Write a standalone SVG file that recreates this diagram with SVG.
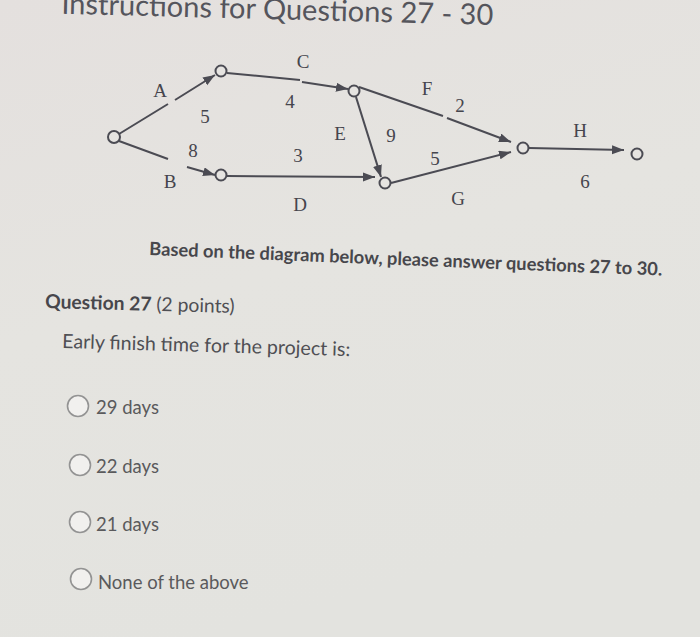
<svg xmlns="http://www.w3.org/2000/svg" width="700" height="637" viewBox="0 0 700 637">
  <defs>
    <linearGradient id="bg" x1="0" y1="0" x2="0.3" y2="1">
      <stop offset="0" stop-color="#e4e0de"/>
      <stop offset="0.5" stop-color="#e5e4e0"/>
      <stop offset="1" stop-color="#e3e3df"/>
    </linearGradient>
    <marker id="arr" markerUnits="userSpaceOnUse" markerWidth="14" markerHeight="10" refX="12" refY="4.5" orient="auto">
      <path d="M0,0 L12,4.5 L0,9 Z" fill="#4b4b53"/>
    </marker>
    <style>
      .edge { fill: none; stroke: #4b4b53; stroke-width: 2; marker-end: url(#arr); }
      .node { fill: #e6e4e1; stroke: #4b4b53; stroke-width: 2; }
      .lbl { font-family: "Liberation Serif", "Times New Roman", serif; font-size: 19px; fill: #45454d; text-anchor: middle; }
      .title { font-family: Lato, "Open Sans", sans-serif; font-size: 29px; fill: #55555c; }
      .bold { font-family: Lato, "Open Sans", sans-serif; font-weight: bold; fill: #47474c; }
      .reg { font-family: Lato, "Open Sans", sans-serif; font-weight: normal; fill: #4f4f54; }
      .radio { fill: #f1f0ee; stroke: #939393; stroke-width: 1.6; }
      .opt { font-family: Lato, "Open Sans", sans-serif; font-size: 18.5px; fill: #5a5a5c; }
    </style>
  </defs>
  <rect x="0" y="0" width="700" height="637" fill="url(#bg)"/>

  <text class="title" x="493" y="25" text-anchor="end" transform="rotate(1.5 493 25)">Instructions for Questions 27 - 30</text>

  <g id="connectors">
    <path id="edge-A" class="edge" d="M119,134 L168,104 M175,100 L215,75"/>
    <path id="edge-B" class="edge" d="M119,141 L168,159 M187,167 L215,175"/>
    <path id="edge-C" class="edge" d="M227,73 L300,80 M302,82 L348,89"/>
    <path id="edge-E" class="edge" d="M356,97 L381,177"/>
    <path id="edge-D" class="edge" d="M227,176 L375,177"/>
    <path id="edge-F" class="edge" d="M359,87 L443,116 M447,118 L511,142"/>
    <path id="edge-G" class="edge" d="M391,183 L511,152"/>
    <path id="edge-H" class="edge" d="M529,148 L624,150"/>
  </g>

  <g id="node-1"><circle class="node" cx="114" cy="137" r="6"/></g>
  <g id="node-2"><circle class="node" cx="221" cy="71" r="5.5"/></g>
  <g id="node-3"><circle class="node" cx="221" cy="175" r="5.5"/></g>
  <g id="node-4"><circle class="node" cx="354" cy="91" r="5.5"/></g>
  <g id="node-5"><circle class="node" cx="385" cy="183" r="5.5"/></g>
  <g id="node-6"><circle class="node" cx="523" cy="148" r="5.5"/></g>
  <g id="node-7"><circle class="node" cx="637" cy="154" r="5.5"/></g>

  <g id="labels">
    <text class="lbl" x="160" y="97">A</text>
    <text class="lbl" x="205" y="123">5</text>
    <text class="lbl" x="193" y="157">8</text>
    <text class="lbl" x="170" y="188">B</text>
    <text class="lbl" x="303" y="68">C</text>
    <text class="lbl" x="290" y="108">4</text>
    <text class="lbl" x="340" y="140">E</text>
    <text class="lbl" x="298" y="162">3</text>
    <text class="lbl" x="300" y="211">D</text>
    <text class="lbl" x="391" y="142">9</text>
    <text class="lbl" x="427" y="95">F</text>
    <text class="lbl" x="460" y="112">2</text>
    <text class="lbl" x="435" y="165">5</text>
    <text class="lbl" x="458" y="205">G</text>
    <text class="lbl" x="580" y="137">H</text>
    <text class="lbl" x="585" y="188">6</text>
  </g>

  <text class="bold" font-size="18.3" x="149" y="255" transform="rotate(2.3 149 255)">Based on the diagram below, please answer questions 27 to 30.</text>
  <text x="45" y="308" font-size="19.3" transform="rotate(1.5 45 308)"><tspan class="bold">Question 27 </tspan><tspan class="reg">(2 points)</tspan></text>
  <text class="reg" font-size="19.6" x="62" y="348" transform="rotate(1.6 62 348)">Early finish time for the project is:</text>

  <g id="opt-1"><circle class="radio" cx="78" cy="406" r="10.5"/><text class="opt" x="96" y="414">29 days</text></g>
  <g id="opt-2"><circle class="radio" cx="80" cy="465" r="10.5"/><text class="opt" x="96" y="473">22 days</text></g>
  <g id="opt-3"><circle class="radio" cx="80" cy="522" r="10.5"/><text class="opt" x="96" y="531">21 days</text></g>
  <g id="opt-4"><circle class="radio" cx="81" cy="579" r="10.5"/><text class="opt" x="98" y="589">None of the above</text></g>
</svg>
